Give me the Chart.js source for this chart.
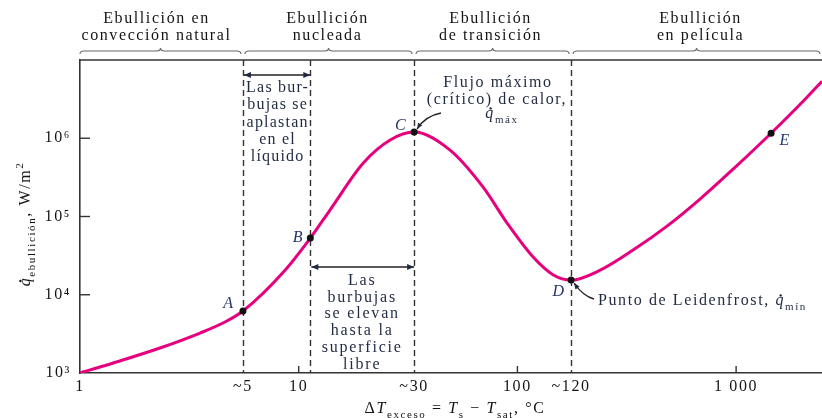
<!DOCTYPE html>
<html>
<head>
<meta charset="utf-8">
<script src="https://cdn.jsdelivr.net/npm/chart.js@4.4.1/dist/chart.umd.min.js"></script>
<style>
  html, body { margin: 0; padding: 0; background: #fff; }
  #wrap { width: 822px; height: 418px; position: relative; }
</style>
</head>
<body>
<div id="wrap"><canvas id="boiling"></canvas></div>
<script>
// Boiling curve (schematic) - excess temperature vs. heat flux, log-log

// Curve samples
const CURVE_DT = [1, 1.52, 2.32, 3.54, 4.6, 5.56, 8.66, 11.3, 13.9, 19.7, 26.2, 33.7, 49.2, 69.7, 89.7, 118, 146, 176, 239, 338, 483, 684, 969, 1445, 1963, 2470];
const CURVE_Q  = [1000, 1423, 2085, 3240, 4480, 6200, 20600, 53000, 121000, 480000, 950000, 1200000, 705000, 237000, 82400, 30300, 17900, 15400, 20600, 37200, 75300, 167000, 403000, 1160000, 2720000, 5360000];

// Marked points A..E
const POINT_NAMES = ['A', 'B', 'C', 'D', 'E'];
const POINT_DT = [5.56, 11.3, 33.7, 176, 1445];
const POINT_Q  = [6200, 53000, 1200000, 15400, 1160000];

// Axis ticks
const X_TICKS = [1, 5.56, 10, 33.7, 100, 176, 1000];
const X_TICK_LABELS = ['1', '~5', '10', '~30', '100', '~120', '1 000'];
const X_MARKS = [10, 100, 1000];
const Y_TICKS = [1e3, 1e4, 1e5, 1e6];
const Y_TICK_LABELS = ['10³', '10⁴', '10⁵', '10⁶'];
const Y_MARKS = [1e4, 1e5, 1e6];

// Dashed lines at A, B, C, D; boiling regimes split at A, C, D
const DASH_DT = [5.56, 11.3, 33.7, 176];
const REGIME_EDGES_DT = [5.56, 33.7, 176];
const REGIME_NAMES = [
  ['Ebullición en', 'convección natural'],
  ['Ebullición', 'nucleada'],
  ['Ebullición', 'de transición'],
  ['Ebullición', 'en película'],
];

const SERIF = "'Liberation Serif', 'DejaVu Serif', serif";
const INK = '#141414';
const NAVY = '#1f2942';
const CURVE_COLOR = '#e6007e';
const FS = 16;

// Helper: text with italic / subscript / superscript runs
function richText(ctx, x, y, parts, size, align = 'left') {
  const fontFor = k => {
    const small = (k === 'sub' || k === 'sup');
    const ital = (k === 'i' || k === 'qdot');
    return (ital ? 'italic ' : '') + (small ? Math.round(size * 0.66) : size) + 'px ' + SERIF;
  };
  let w = 0;
  parts.forEach(p => { ctx.font = fontFor(p[1]); w += ctx.measureText(p[0]).width; });
  let cx = align === 'center' ? x - w / 2 : align === 'right' ? x - w : x;
  ctx.textAlign = 'left';
  ctx.textBaseline = 'alphabetic';
  parts.forEach(p => {
    ctx.font = fontFor(p[1]);
    const dy = p[1] === 'sub' ? size * 0.32 : p[1] === 'sup' ? -size * 0.42 : 0;
    ctx.fillText(p[0], cx, y + dy);
    const pw = ctx.measureText(p[0]).width;
    if (p[1] === 'qdot') {
      ctx.beginPath();
      ctx.arc(cx + pw * 0.55, y - size * 0.6, 1.2, 0, Math.PI * 2);
      ctx.fill();
    }
    cx += pw;
  });
}

function brace(ctx, x1, x2, y) {
  const mid = (x1 + x2) / 2;
  ctx.beginPath();
  ctx.moveTo(x1, y + 3);
  ctx.quadraticCurveTo(x1, y, x1 + 4, y);
  ctx.lineTo(mid - 4, y);
  ctx.quadraticCurveTo(mid, y, mid, y - 3);
  ctx.quadraticCurveTo(mid, y, mid + 4, y);
  ctx.lineTo(x2 - 4, y);
  ctx.quadraticCurveTo(x2, y, x2, y + 3);
  ctx.stroke();
}

function arrowHead(ctx, fx, fy, tx, ty, len = 7, half = 3) {
  const a = Math.atan2(ty - fy, tx - fx);
  ctx.beginPath();
  ctx.moveTo(tx, ty);
  ctx.lineTo(tx - len * Math.cos(a) + half * Math.sin(a), ty - len * Math.sin(a) - half * Math.cos(a));
  ctx.lineTo(tx - len * Math.cos(a) - half * Math.sin(a), ty - len * Math.sin(a) + half * Math.cos(a));
  ctx.closePath();
  ctx.fill();
}

function doubleArrow(ctx, x1, x2, y) {
  ctx.beginPath();
  ctx.moveTo(x1, y);
  ctx.lineTo(x2, y);
  ctx.stroke();
  arrowHead(ctx, x2, y, x1, y);
  arrowHead(ctx, x1, y, x2, y);
}

function curvedArrow(ctx, fx, fy, cx, cy, tx, ty) {
  ctx.beginPath();
  ctx.moveTo(fx, fy);
  ctx.quadraticCurveTo(cx, cy, tx, ty);
  ctx.stroke();
  arrowHead(ctx, cx, cy, tx, ty, 6, 2.5);
}

const boilingDecor = {
  id: 'boilingDecor',
  beforeDraw(chart) {
    chart.ctx.letterSpacing = '1.6px';
  },
  beforeDatasetsDraw(chart) {
    const { ctx, chartArea: a, scales: { x, y } } = chart;
    ctx.save();
    // top frame line
    ctx.strokeStyle = '#333';
    ctx.lineWidth = 1.6;
    ctx.beginPath();
    ctx.moveTo(a.left, a.top);
    ctx.lineTo(a.right, a.top);
    ctx.stroke();
    // dashed boundaries
    ctx.setLineDash([6, 4]);
    ctx.lineWidth = 1.4;
    DASH_DT.forEach(v => {
      const px = Math.round(x.getPixelForValue(v)) + 0.5;
      ctx.beginPath();
      ctx.moveTo(px, a.top);
      ctx.lineTo(px, a.bottom);
      ctx.stroke();
    });
    ctx.setLineDash([]);
    // inward tick marks
    ctx.lineWidth = 1.4;
    X_MARKS.forEach(v => {
      const px = x.getPixelForValue(v);
      ctx.beginPath();
      ctx.moveTo(px, a.bottom);
      ctx.lineTo(px, a.bottom - 7);
      ctx.stroke();
    });
    Y_MARKS.forEach(v => {
      const py = y.getPixelForValue(v);
      ctx.beginPath();
      ctx.moveTo(a.left, py);
      ctx.lineTo(a.left + 10, py);
      ctx.stroke();
    });
    ctx.restore();
  },
  afterDraw(chart) {
    const { ctx, chartArea: a, scales: { x, y } } = chart;
    const px = v => x.getPixelForValue(v);
    const py = v => y.getPixelForValue(v);
    ctx.save();
    ctx.letterSpacing = '1.6px';

    // regime headers with braces
    const edges = [a.left, ...REGIME_EDGES_DT.map(px), a.right];
    const shift = [-4, -1, -2, 4];
    ctx.fillStyle = INK;
    ctx.strokeStyle = '#666';
    ctx.lineWidth = 1.1;
    REGIME_NAMES.forEach((lines, i) => {
      const x1 = edges[i] + (i ? 2 : 0);
      const x2 = edges[i + 1] - 2;
      const cx = (x1 + x2) / 2;
      lines.forEach((t, j) => richText(ctx, cx + shift[i], 23 + j * 17, [[t, '']], FS, 'center'));
      brace(ctx, x1, x2, 51);
    });

    // annotations
    ctx.fillStyle = NAVY;
    ctx.strokeStyle = '#222';
    ctx.lineWidth = 1.3;
    const xA = px(POINT_DT[0]), xB = px(POINT_DT[1]), xC = px(POINT_DT[2]), xD = px(POINT_DT[3]);
    doubleArrow(ctx, xA + 1, xB, 75);
    ctx.letterSpacing = '1.2px';
    ['Las bur-', 'bujas se', 'aplastan', 'en el', 'líquido'].forEach((t, j) =>
      richText(ctx, (xA + xB) / 2 + 1, 92 + j * 17.3, [[t, '']], FS, 'center'));

    ctx.letterSpacing = '1.8px';
    doubleArrow(ctx, xB + 1, xC, 267);
    ['Las', 'burbujas', 'se elevan', 'hasta la', 'superficie', 'libre'].forEach((t, j) =>
      richText(ctx, (xB + xC) / 2, 285 + j * 16.7, [[t, '']], FS, 'center'));

    ctx.letterSpacing = '1.6px';
    richText(ctx, 498, 87, [['Flujo máximo', '']], FS, 'center');
    richText(ctx, 497, 104, [['(crítico) de calor,', '']], FS, 'center');
    richText(ctx, 502, 118, [['q', 'qdot'], ['máx', 'sub']], FS, 'center');
    curvedArrow(ctx, 441, 113, 425, 116, xC + 3, py(POINT_Q[2]) - 3);

    richText(ctx, 598, 305, [['Punto de Leidenfrost, ', ''], ['q', 'qdot'], ['mín', 'sub']], FS, 'left');
    curvedArrow(ctx, 594, 299, 583, 296, xD + 3, py(POINT_Q[3]) + 3);

    // point letters
    const letterPos = [[-14, -3], [-12, 4], [-13, -2], [-12, 16], [14, 12]];
    ctx.fillStyle = '#26346b';
    POINT_NAMES.forEach((n, i) => {
      richText(ctx, px(POINT_DT[i]) + letterPos[i][0], py(POINT_Q[i]) + letterPos[i][1], [[n, 'i']], FS, 'center');
    });

    // axis titles
    ctx.fillStyle = INK;
    richText(ctx, 455, 413, [['Δ', ''], ['T', 'i'], ['exceso', 'sub'], [' = ', ''], ['T', 'i'], ['s', 'sub'],
      [' − ', ''], ['T', 'i'], ['sat', 'sub'], [', °C', '']], FS, 'center');
    ctx.translate(30, 224);
    ctx.rotate(-Math.PI / 2);
    richText(ctx, 0, 0, [['q', 'qdot'], ['ebullición', 'sub'], [', W/m', ''], ['2', 'sup']], FS, 'center');
    ctx.restore();
  }
};

const curveData = CURVE_DT.map((v, i) => ({ x: v, y: CURVE_Q[i] }));
const pointData = POINT_DT.map((v, i) => ({ x: v, y: POINT_Q[i] }));

new Chart(document.getElementById('boiling'), {
  type: 'line',
  data: {
    datasets: [
      {
        data: pointData,
        showLine: false,
        pointRadius: 3.5,
        pointBackgroundColor: '#111',
        pointBorderWidth: 0,
      },
      {
        data: curveData,
        borderColor: CURVE_COLOR,
        borderWidth: 3,
        pointRadius: 0,
        cubicInterpolationMode: 'monotone',
      },
    ],
  },
  options: {
    responsive: true,
    maintainAspectRatio: false,
    animation: false,
    layout: { autoPadding: false, padding: { top: 60, right: 0, bottom: 0, left: 0 } },
    plugins: { legend: { display: false }, tooltip: { enabled: false } },
    scales: {
      x: {
        type: 'logarithmic',
        min: 1,
        max: 2470,
        afterBuildTicks: s => { s.ticks = X_TICKS.map(v => ({ value: v })); },
        afterFit: s => { s.height = 45; s.paddingLeft = 0; s.paddingRight = 0; },
        grid: { display: false, drawTicks: false },
        border: { display: true, color: '#333', width: 1.6 },
        ticks: {
          autoSkip: false,
          maxRotation: 0,
          padding: 4,
          color: INK,
          font: { family: SERIF, size: FS },
          callback: (v, i) => X_TICK_LABELS[i],
        },
      },
      y: {
        type: 'logarithmic',
        min: 1e3,
        max: 1e7,
        afterBuildTicks: s => { s.ticks = Y_TICKS.map(v => ({ value: v })); },
        afterFit: s => { s.width = 80; s.paddingTop = 0; s.paddingBottom = 0; },
        grid: { display: false, drawTicks: false },
        border: { display: true, color: '#333', width: 1.6 },
        ticks: {
          padding: 9,
          color: INK,
          font: { family: SERIF, size: FS },
          callback: (v, i) => Y_TICK_LABELS[i],
        },
      },
    },
  },
  plugins: [boilingDecor],
});
</script>
</body>
</html>
